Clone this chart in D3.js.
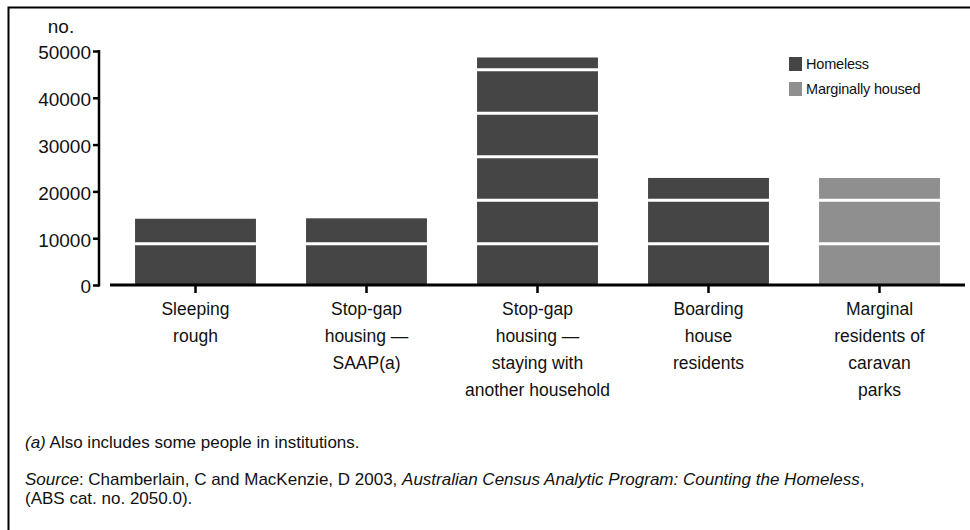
<!DOCTYPE html>
<html>
<head>
<meta charset="utf-8">
<script src="https://cdn.jsdelivr.net/npm/d3@7"></script>
<style>
  body { margin: 0; background: #fff; }
  svg { display: block; font-family: "Liberation Sans", Arial, sans-serif; }
</style>
</head>
<body>
<svg id="chart" width="970" height="530"></svg>
<script>
// categories, values (2001 census counts) and y ticks
const categories = [
  ["Sleeping", "rough"],
  ["Stop-gap", "housing \u2014", "SAAP(a)"],
  ["Stop-gap", "housing \u2014", "staying with", "another household"],
  ["Boarding", "house", "residents"],
  ["Marginal", "residents of", "caravan", "parks"]
];
const values = [14158, 14251, 48614, 22877, 22868];
const groups = ["Homeless", "Homeless", "Homeless", "Homeless", "Marginally housed"];
const series = ["Homeless", "Marginally housed"];
const yTicks = [0, 10000, 20000, 30000, 40000, 50000];
// white breaks drawn across the bars
const breaks = [8800, 18100, 27400, 36700, 46000];

const svg = d3.select("#chart");
const colour = d3.scaleOrdinal().domain(series).range(["#454545", "#8f8f8f"]);

let x = d3.scaleBand()
  .domain(d3.range(categories.length))
  .range([110, 965])
  .paddingInner(0.293)
  .paddingOuter(0.1465);
let y = d3.scaleLinear().domain([0, 50000]).range([285, 51]);

// frame
svg.append("path").attr("d", "M8.5,530V7.5H970")
  .attr("fill", "none").attr("stroke", "#000").attr("stroke-width", 2);

// bars
let bars = svg.append("g");
bars.selectAll("rect").data(values).join("rect")
  .attr("x", (d, i) => x(i))
  .attr("width", x.bandwidth())
  .attr("y", d => y(d))
  .attr("height", d => y(0) - y(d))
  .attr("fill", (d, i) => colour(groups[i]));

// white breaks inside each bar
values.forEach((v, i) => {
  breaks.filter(b => b < v).forEach(b => {
    bars.append("line")
      .attr("x1", x(i)).attr("x2", x(i) + x.bandwidth())
      .attr("y1", y(b)).attr("y2", y(b))
      .attr("stroke", "#fff").attr("stroke-width", 3);
  });
});

// y axis
let yAxis = svg.append("g").attr("transform", "translate(99,0)")
  .call(d3.axisLeft(y).tickValues(yTicks).tickSize(6).tickPadding(2).tickFormat(d3.format("d")));
yAxis.select(".domain").attr("d", "M0," + (y(50000) - 1) + "V" + (y(0) + 1.5)).attr("stroke-width", 2.5);
yAxis.selectAll(".tick line").attr("stroke-width", 2.5);
yAxis.selectAll(".tick text").attr("font-size", 19).attr("fill", "#111")
  .attr("font-family", "Liberation Sans, Arial, sans-serif").attr("dy", "0.42em");

svg.append("text").attr("x", 61).attr("y", 33).attr("text-anchor", "middle")
  .attr("font-size", 19).attr("fill", "#111").text("no.");

// x axis
let xAxis = svg.append("g").attr("transform", "translate(0," + y(0) + ")")
  .call(d3.axisBottom(x).tickSize(8).tickFormat(""));
xAxis.select(".domain").attr("d", "M110,0H965").attr("stroke-width", 3);
xAxis.selectAll(".tick line").attr("stroke-width", 2.5);

// category labels
let labels = svg.append("g").attr("font-size", 17.5).attr("fill", "#111").attr("text-anchor", "middle");
categories.forEach((lines, i) => {
  let t = labels.append("text").attr("x", x(i) + x.bandwidth() / 2).attr("y", 315);
  lines.forEach((line, j) => {
    t.append("tspan").attr("x", x(i) + x.bandwidth() / 2).attr("dy", j == 0 ? 0 : 27).text(line);
  });
});

// legend
let legend = svg.append("g").attr("font-size", 14.5).attr("fill", "#111");
series.forEach((s, i) => {
  legend.append("rect").attr("x", 789).attr("y", 57 + i * 25).attr("width", 13).attr("height", 14)
    .attr("fill", colour(s));
  legend.append("text").attr("x", 806).attr("y", 69 + i * 25).attr("letter-spacing", -0.2).text(s);
});

// notes
let notes = svg.append("g").attr("font-size", 17).attr("fill", "#111");
let n1 = notes.append("text").attr("x", 25).attr("y", 448);
n1.append("tspan").attr("font-style", "italic").text("(a)");
n1.append("tspan").text(" Also includes some people in institutions.");
let n2 = notes.append("text").attr("x", 25).attr("y", 485);
n2.append("tspan").attr("font-style", "italic").text("Source");
n2.append("tspan").text(": Chamberlain, C and MacKenzie, D 2003, ");
n2.append("tspan").attr("font-style", "italic").text("Australian Census Analytic Program: Counting the Homeless");
n2.append("tspan").text(",");
notes.append("text").attr("x", 25).attr("y", 504).text("(ABS cat. no. 2050.0).");
</script>
</body>
</html>
